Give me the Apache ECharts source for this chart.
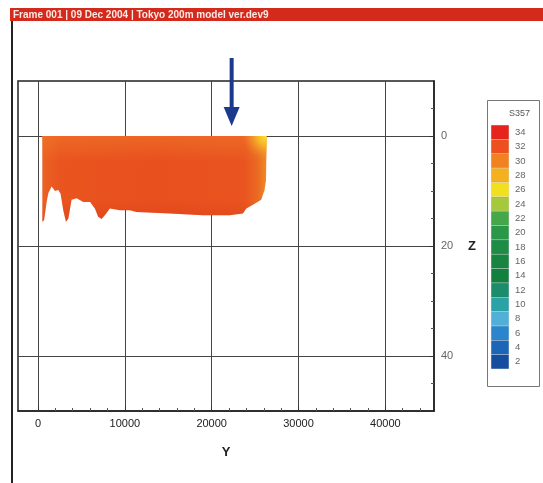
<!DOCTYPE html>
<html>
<head>
<meta charset="utf-8">
<script src="https://cdn.jsdelivr.net/npm/echarts@6/dist/echarts.min.js"></script>
<style>
html,body{margin:0;padding:0;background:#fff;}
#c{width:543px;height:483px;}
</style>
</head>
<body>
<div id="c"></div>
<script>
// ---- data ----
const headerText = 'Frame 001 | 09 Dec 2004 | Tokyo 200m model ver.dev9';
const xTickLabels = [0, 10000, 20000, 30000, 40000];
const xMinorTicks = [2000, 4000, 6000, 8000, 12000, 14000, 16000, 18000, 22000, 24000, 26000, 28000, 32000, 34000, 36000, 38000, 42000, 44000];
const zTickLabels = [0, 20, 40];
const zMinorTicks = [-5, 5, 10, 15, 25, 30, 35, 45];
// bottom boundary of the salinity field (Y, depth Z)
const fieldY = [500, 700, 1000, 1190, 1570, 1960, 2340, 2600, 2910, 3220, 3500, 3870, 4450, 5210, 6000, 6550, 6930, 7320, 7700, 8280, 9430, 10570, 11340, 15170, 18970, 22070, 23600, 23990, 24750, 25710, 26090, 26260, 26320];
const fieldDepth = [15.6, 15.3, 12.0, 10.4, 9.2, 10.0, 9.8, 10.5, 13.5, 15.6, 15.0, 11.6, 11.3, 12.0, 12.0, 13.2, 14.7, 15.1, 14.4, 13.2, 13.5, 13.5, 13.8, 14.1, 14.4, 14.4, 14.1, 13.2, 12.5, 11.6, 9.8, 8.0, 0.7];
const colorbarLabels = ['2', '4', '6', '8', '10', '12', '14', '16', '18', '20', '22', '24', '26', '28', '30', '32', '34'];
const colorbarColors = ['#154e9e', '#1b66b6', '#2a86cc', '#52b0d8', '#2aa2a6', '#1b8c6c', '#12803f', '#178442', '#1d8c45', '#2a9848', '#45a64a', '#a6c83c', '#f2e01e', '#f5b020', '#f2821f', '#ee4f1e', '#e6231c'];
const legendTitle = 'S357';
const arrowY = 22300;

const chart = echarts.init(document.getElementById('c'), null, {renderer: 'canvas'});
const FONT = 'Liberation Sans';

const option = {
  backgroundColor: '#fff',
  animation: false,
  textStyle: {fontFamily: FONT},
  title: [{
    text: legendTitle, left: 504, top: 104,
    textStyle: {fontSize: 9, fontWeight: 'normal', color: '#555', fontFamily: FONT}
  }],
  grid: [
    {left: 18, top: 81, width: 416, height: 330, show: true, borderColor: '#222', borderWidth: 1.5},
    {left: 491, top: 125, width: 18, height: 244}
  ],
  xAxis: [
    {
      gridIndex: 0, type: 'value', min: -2300, max: 45600, splitNumber: 5, position: 'bottom',
      axisLine: {show: true, onZero: false, lineStyle: {color: '#222', width: 1.5}},
      axisTick: {show: true, inside: true, length: 5, customValues: xTickLabels, lineStyle: {color: '#333'}},
      axisLabel: {customValues: xTickLabels, fontSize: 11, color: '#222', margin: 7, fontFamily: FONT, formatter: v => String(v)},
      splitLine: {show: true, lineStyle: {color: '#444', width: 1}},
      name: 'Y', nameLocation: 'middle', nameGap: 35,
      nameTextStyle: {fontWeight: 'bold', fontSize: 13, color: '#222', fontFamily: FONT}
    },
    {
      gridIndex: 0, type: 'value', min: -2300, max: 45600, position: 'bottom',
      axisLine: {show: false, onZero: false},
      axisTick: {show: true, inside: true, length: 3, customValues: xMinorTicks, lineStyle: {color: '#555'}},
      axisLabel: {show: false}, splitLine: {show: false}
    },
    {gridIndex: 1, type: 'value', min: 0, max: 1, show: false}
  ],
  yAxis: [
    {
      gridIndex: 0, type: 'value', min: -10, max: 50, splitNumber: 3, inverse: true, position: 'right',
      axisLine: {show: true, onZero: false, lineStyle: {color: '#222', width: 1.5}},
      axisTick: {show: true, inside: true, length: 5, customValues: zTickLabels, lineStyle: {color: '#333'}},
      axisLabel: {customValues: zTickLabels, fontSize: 11, color: '#666', margin: 7, fontFamily: FONT, formatter: v => String(v)},
      splitLine: {show: true, lineStyle: {color: '#444', width: 1}},
      name: 'Z', nameLocation: 'middle', nameGap: 34, nameRotate: 0,
      nameTextStyle: {fontWeight: 'bold', fontSize: 13, color: '#222', fontFamily: FONT}
    },
    {
      gridIndex: 0, type: 'value', min: -10, max: 50, inverse: true, position: 'right',
      axisLine: {show: false, onZero: false},
      axisTick: {show: true, inside: true, length: 3, customValues: zMinorTicks, lineStyle: {color: '#555'}},
      axisLabel: {show: false}, splitLine: {show: false}
    },
    {
      gridIndex: 1, type: 'category', data: colorbarLabels, position: 'right',
      axisLine: {show: false}, axisTick: {show: false}, splitLine: {show: false},
      axisLabel: {fontSize: 9.5, color: '#666', margin: 6, fontFamily: FONT}
    }
  ],
  series: [
    {
      type: 'custom', xAxisIndex: 0, yAxisIndex: 0, z: 3,
      data: [[fieldY[0], 0]],
      encode: {x: 0, y: 1},
      renderItem: function (params, api) {
        const pts = [api.coord([fieldY[0], 0])];
        for (let i = 0; i < fieldY.length; i++) pts.push(api.coord([fieldY[i], fieldDepth[i]]));
        pts.push(api.coord([fieldY[fieldY.length - 1], 0]));
        const g1 = new echarts.graphic.LinearGradient(0, 0, 1, 0, [
          {offset: 0, color: '#eb6224'}, {offset: 0.08, color: '#e9541f'},
          {offset: 0.5, color: '#e8501e'}, {offset: 0.9, color: '#e95420'},
          {offset: 0.96, color: '#eb6a22'}, {offset: 1, color: '#ef8a26'}
        ]);
        const g2 = new echarts.graphic.LinearGradient(0, 0, 0, 1, [
          {offset: 0, color: 'rgba(242,130,45,0.45)'}, {offset: 0.3, color: 'rgba(242,130,45,0)'},
          {offset: 0.75, color: 'rgba(210,40,20,0)'}, {offset: 1, color: 'rgba(210,40,20,0.3)'}
        ]);
        const g3 = new echarts.graphic.RadialGradient(1, 0, 0.28, [
          {offset: 0, color: 'rgba(250,232,45,1)'}, {offset: 0.4, color: 'rgba(248,200,40,0.75)'},
          {offset: 1, color: 'rgba(240,140,40,0)'}
        ]);
        return {type: 'group', children: [
          {type: 'polygon', shape: {points: pts}, style: {fill: g1}},
          {type: 'polygon', shape: {points: pts}, style: {fill: g2}},
          {type: 'polygon', shape: {points: pts}, style: {fill: g3}}
        ]};
      }
    },
    {
      type: 'bar', xAxisIndex: 2, yAxisIndex: 2, barCategoryGap: '0%', barWidth: '100%', z: 3,
      data: colorbarColors.map(c => ({value: 1, itemStyle: {color: c}})),
      itemStyle: {borderColor: 'rgba(0,0,0,0.12)', borderWidth: 0.5}
    }
  ]
};
chart.setOption(option);

const ax = chart.convertToPixel({xAxisIndex: 0}, arrowY);
chart.setOption({
  graphic: [
    {type: 'rect', id: 'hdr', shape: {x: 10, y: 8, width: 533, height: 13}, style: {fill: '#d42a1c'}, z: 10},
    {type: 'text', id: 'hdrText', x: 13, y: 10, style: {text: headerText, fill: '#fbe9e7', font: 'bold 10px ' + FONT}, z: 11},
    {type: 'rect', id: 'border', shape: {x: 11, y: 21, width: 2, height: 462}, style: {fill: '#222'}, z: 10},
    {type: 'rect', id: 'legendBox', shape: {x: 487.5, y: 100.5, width: 52, height: 286}, style: {fill: '#fff', stroke: '#777', lineWidth: 1}, z: -1},
    {type: 'rect', id: 'arrowShaft', shape: {x: ax - 2, y: 58, width: 4, height: 52}, style: {fill: '#1b3a8e'}, z: 10},
    {type: 'polygon', id: 'arrowHead', shape: {points: [[ax - 8, 107], [ax + 8, 107], [ax, 126]]}, style: {fill: '#1b3a8e'}, z: 10}
  ]
});
</script>
</body>
</html>
